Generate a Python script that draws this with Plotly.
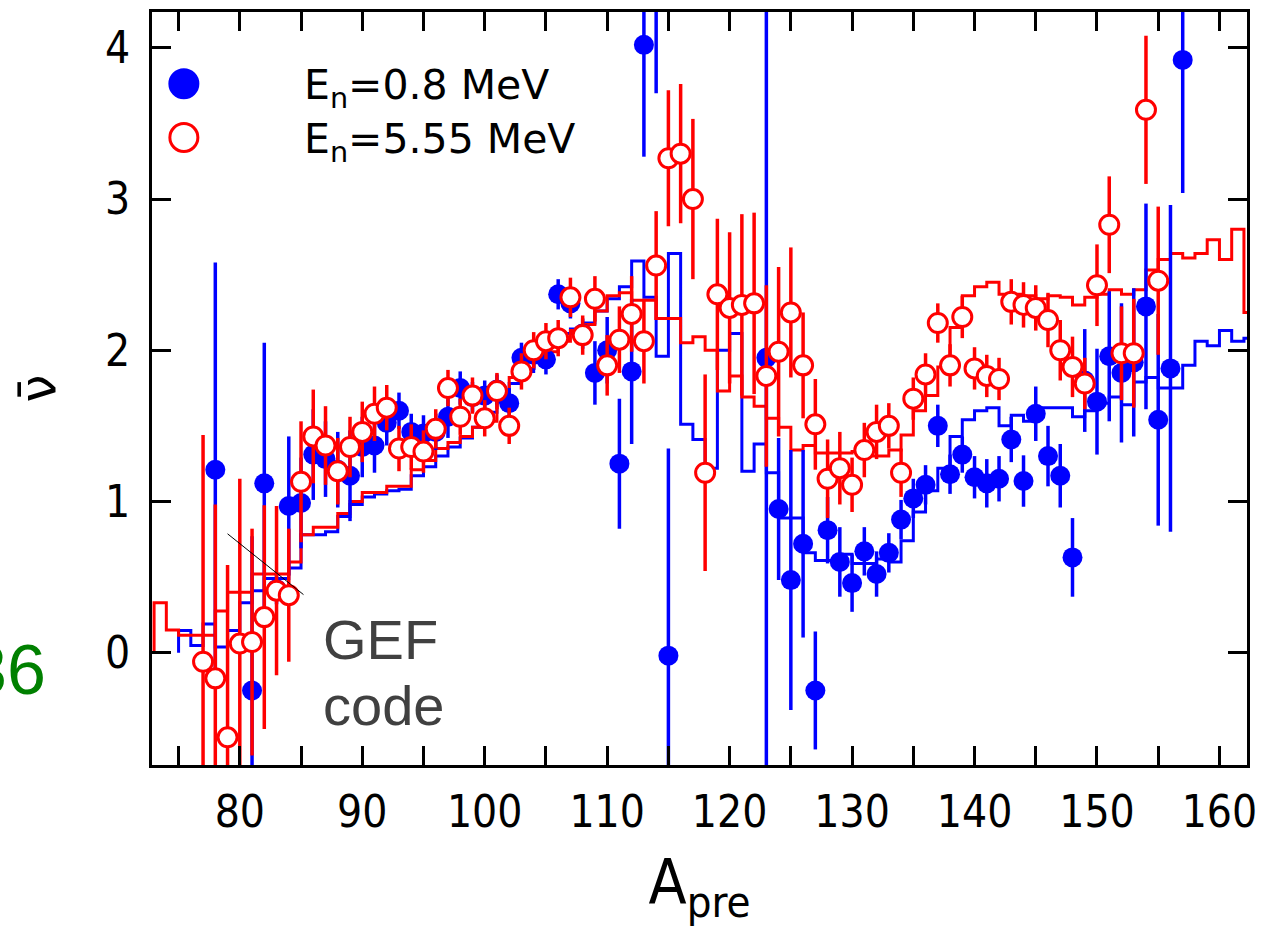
import plotly.graph_objects as go

# ---------------- data ----------------
A_blue = [78, 81, 82, 83, 84, 85, 86, 87, 88, 89, 90, 91, 92, 93, 94, 95, 96, 97, 98, 99,
          100, 101, 102, 103, 104, 105, 106, 107, 108, 109, 110, 111, 112, 113, 114, 115,
          123, 124, 125, 126, 127, 128, 129, 130, 131, 132, 133, 134, 135, 136, 137, 138,
          139, 140, 141, 142, 143, 144, 145, 146, 147, 148, 149, 150, 151, 152, 153, 154,
          155, 156, 157]
nu_blue = [1.21, -0.25, 1.12, 0.42, 0.97, 0.99, 1.31, 1.28, 1.21, 1.17, 1.36, 1.37, 1.52, 1.60,
           1.46, 1.45, 1.46, 1.56, 1.75, 1.69, 1.70, 1.74, 1.65, 1.95, 1.97, 1.94, 2.37, 2.31,
           2.11, 1.85, 2.00, 1.25, 1.86, 4.02, 4.60, -0.02,
           1.95, 0.95, 0.48, 0.72, -0.25, 0.81, 0.60, 0.46, 0.67, 0.52, 0.66, 0.88, 1.02, 1.11,
           1.50, 1.18, 1.31, 1.16, 1.12, 1.15, 1.41, 1.135, 1.58, 1.30, 1.17, 0.63, 1.80, 1.66,
           1.96, 1.85, 1.92, 2.29, 1.54, 1.88, 3.92]
err_blue = [1.37, 1.02, 0.93, 0.10, 0.46, 0.30, 0.30, 0.25, 0.25, 0.30, 0.20, 0.18, 0.15, 0.12,
            0.12, 0.12, 0.12, 0.14, 0.11, 0.10, 0.10, 0.10, 0.10, 0.10, 0.10, 0.10, 0.10, 0.10,
            0.10, 0.21, 0.22, 0.43, 0.48, 0.74, 0.90, 1.37,
            3.00, 0.47, 0.86, 0.62, 0.39, 0.22, 0.23, 0.19, 0.16, 0.15, 0.13, 0.13, 0.13, 0.13,
            0.14, 0.13, 0.12, 0.14, 0.16, 0.15, 0.15, 0.17, 0.18, 0.20, 0.21, 0.26, 0.34, 0.35,
            0.43, 0.46, 0.49, 0.68, 0.70, 1.08, 0.88]

A_red = list(range(77, 156))
nu_red = [-0.06, -0.17, -0.56, 0.06, 0.07, 0.235, 0.41, 0.38, 1.13, 1.43, 1.37, 1.20, 1.36,
          1.46, 1.58, 1.62, 1.35, 1.36, 1.33, 1.48, 1.75, 1.56, 1.70, 1.55, 1.73, 1.50, 1.86,
          2.00, 2.06, 2.08, 2.35, 2.10, 2.34, 1.90, 2.07, 2.24, 2.06, 2.56, 3.27, 3.30, 3.00,
          1.19, 2.37, 2.28, 2.30, 2.31, 1.83, 1.99, 2.25, 1.90, 1.51, 1.15, 1.22, 1.11, 1.34,
          1.46, 1.50, 1.19, 1.68, 1.84, 2.18, 1.90, 2.22, 1.88, 1.83, 1.81, 2.32, 2.30, 2.28,
          2.20, 2.00, 1.89, 1.78, 2.43, 2.83, 1.98, 1.98, 3.59, 2.46]
err_red = [1.50, 1.15, 1.14, 1.09, 0.75, 0.74, 0.56, 0.44, 0.40, 0.31, 0.26, 0.22, 0.20,
           0.20, 0.18, 0.15, 0.15, 0.15, 0.14, 0.13, 0.12, 0.12, 0.12, 0.12, 0.12, 0.12, 0.12,
           0.12, 0.12, 0.12, 0.13, 0.13, 0.15, 0.20, 0.22, 0.25, 0.28, 0.36, 0.45, 0.46, 0.53,
           0.65, 0.50, 0.50, 0.60, 0.60, 0.60, 0.56, 0.43, 0.35, 0.30, 0.26, 0.24, 0.18, 0.18,
           0.18, 0.15, 0.16, 0.14, 0.14, 0.13, 0.14, 0.14, 0.14, 0.14, 0.14, 0.15, 0.15, 0.15,
           0.18, 0.20, 0.20, 0.17, 0.27, 0.32, 0.31, 0.36, 0.49, 0.49]

# GEF code histograms: value of bin [A, A+1], first bin starts at *_start
gef_blue_start = 75
gef_blue = [0.147, 0.048, 0.19, 0.037, 0.147, 0.33, 0.41, 0.49, 0.49, 0.56, 0.78, 0.78, 0.80,
            0.90, 0.98, 1.03, 1.05, 1.07, 1.08, 1.17, 1.23, 1.30, 1.36, 1.42, 1.49, 1.59, 1.66,
            1.78, 1.86, 1.95, 2.03, 2.11, 2.14, 2.18, 2.26, 2.34, 2.42, 2.59, 2.35, 1.96, 2.64,
            1.51, 1.41, 1.22, 2.00, 2.11, 1.20, 1.38, 1.19, 0.89, 0.89, 0.66, 0.61, 0.61, 0.65,
            0.59, 0.59, 0.62, 0.60, 0.74, 0.93, 1.07, 1.22, 1.43, 1.54, 1.60, 1.62, 1.50, 1.57,
            1.53, 1.62, 1.62, 1.62, 1.56, 1.60, 1.65, 1.69, 1.64, 1.79, 1.82, 1.75, 1.75, 1.90,
            2.06, 2.03, 2.13, 2.06, 2.08]
gef_red_start = 73
gef_red = [0.33, 0.15, 0.115, 0.115, 0.115, 0.275, 0.40, 0.40, 0.52, 0.52, 0.52, 0.60, 0.78,
           0.83, 0.83, 0.92, 1.00, 1.06, 1.06, 1.10, 1.10, 1.21, 1.27, 1.35, 1.39, 1.43, 1.49,
           1.53, 1.71, 1.82, 1.88, 1.92, 1.99, 2.06, 2.13, 2.17, 2.26, 2.36, 2.38, 2.33, 2.33,
           2.21, 2.21, 2.05, 2.09, 2.00, 1.73, 1.83, 1.69, 1.63, 1.55, 1.49, 1.34, 1.37, 1.32,
           1.32, 1.32, 1.33, 1.30, 1.30, 1.34, 1.44, 1.60, 1.70, 1.89, 2.15, 2.36, 2.42, 2.45,
           2.37, 2.37, 2.36, 2.34, 2.36, 2.35, 2.30, 2.35, 2.37, 2.40, 2.37, 2.40, 2.53, 2.60,
           2.64, 2.61, 2.64, 2.73, 2.60, 2.80, 2.25]

x_ticks = [75, 80, 85, 90, 95, 100, 105, 110, 115, 120, 125, 130, 135, 140, 145, 150, 155, 160]
x_ticklabels = ['', '80', '', '90', '', '100', '', '110', '', '120', '', '130', '', '140', '',
                '150', '', '160']
y_ticks = [0, 1, 2, 3, 4]
y_ticklabels = ['0', '1', '2', '3', '4']

legend_labels = ['E<sub>n</sub>=0.8 MeV', 'E<sub>n</sub>=5.55 MeV']
gef_label = ['GEF', 'code']
pointer_start = (79.0, 0.786)
pointer_end = (85.2, 0.384)

BLUE = '#0000ff'
RED = '#ff0000'
TICKFONT = 'Liberation Sans Narrow, DejaVu Sans Condensed, DejaVu Sans, sans-serif'


def step_xy(start, vals):
    xs = [start]
    ys = [0]
    for i, v in enumerate(vals):
        xs.append(start + i)
        ys.append(v)
    xs.append(start + len(vals))
    ys.append(vals[-1])
    return xs, ys


fig = go.Figure()

bx, by = step_xy(gef_blue_start, gef_blue)
rx, ry = step_xy(gef_red_start, gef_red)
fig.add_trace(go.Scatter(x=bx, y=by, mode='lines', line=dict(color=BLUE, width=3, shape='hv'),
                         hoverinfo='skip'))
fig.add_trace(go.Scatter(x=rx, y=ry, mode='lines', line=dict(color=RED, width=3, shape='hv'),
                         hoverinfo='skip'))

fig.add_trace(go.Scatter(
    x=A_blue, y=nu_blue, mode='markers', name='E_n=0.8 MeV',
    marker=dict(color=BLUE, size=20, line=dict(width=0)),
    error_y=dict(type='data', array=err_blue, color=BLUE, thickness=3.5, width=0)))
fig.add_trace(go.Scatter(
    x=A_red, y=nu_red, mode='markers', name='E_n=5.55 MeV',
    marker=dict(color='white', size=19, line=dict(color=RED, width=3)),
    error_y=dict(type='data', array=err_red, color=RED, thickness=3.5, width=0)))

# pointer line from the GEF label
fig.add_shape(type='line', xref='x', yref='y', x0=pointer_start[0], y0=pointer_start[1],
              x1=pointer_end[0], y1=pointer_end[1], line=dict(color='black', width=1))

# legend symbols
fig.add_shape(type='circle', xref='paper', yref='paper', xsizemode='pixel', ysizemode='pixel',
              xanchor=0.0291, yanchor=0.9048, x0=-15.5, x1=15.5, y0=-15.5, y1=15.5,
              fillcolor=BLUE, line=dict(width=0))
fig.add_shape(type='circle', xref='paper', yref='paper', xsizemode='pixel', ysizemode='pixel',
              xanchor=0.0291, yanchor=0.8333, x0=-14, x1=14, y0=-14, y1=14,
              fillcolor='white', line=dict(color=RED, width=3))

LEGFONT = dict(family='DejaVu Sans, sans-serif', size=41, color='black')
fig.add_annotation(text=legend_labels[0], xref='paper', yref='paper', x=0.1366, y=0.8995,
                   xanchor='left', yanchor='middle', showarrow=False, font=LEGFONT)
fig.add_annotation(text=legend_labels[1], xref='paper', yref='paper', x=0.1366, y=0.8268,
                   xanchor='left', yanchor='middle', showarrow=False, font=LEGFONT)

GEFFONT = dict(family='Liberation Sans, Arial, sans-serif', size=56, color='#404040')
fig.add_annotation(text=gef_label[0], xref='paper', yref='paper', x=0.1540, y=0.1672,
                   xanchor='left', yanchor='middle', showarrow=False, font=GEFFONT)
fig.add_annotation(text=gef_label[1], xref='paper', yref='paper', x=0.1540, y=0.0786,
                   xanchor='left', yanchor='middle', showarrow=False, font=GEFFONT)

fig.add_annotation(text='36', xref='paper', yref='paper', x=-0.0947, y=0.1263,
                   xanchor='right', yanchor='middle', showarrow=False,
                   font=dict(family='Liberation Sans, Arial, sans-serif', size=70,
                             color='#008000'))

axis_common = dict(ticks='inside', ticklen=19, tickwidth=3, tickcolor='black', showline=True,
                   linewidth=3, linecolor='black', mirror='ticks', showgrid=False,
                   zeroline=False, tickfont=dict(family=TICKFONT, size=44, color='black'))

fig.update_layout(
    width=1266, height=927,
    margin=dict(l=152, r=16, t=9, b=162),
    plot_bgcolor='white', paper_bgcolor='white', showlegend=False,
    xaxis=dict(range=[72.83, 162.25], tickmode='array', tickvals=x_ticks,
               ticktext=x_ticklabels, ticklabelstandoff=6,
               title=dict(text='A<sub>pre</sub>', standoff=28,
                          font=dict(family=TICKFONT, size=62, color='black')),
               **axis_common),
    yaxis=dict(range=[-0.743, 4.237], tickmode='array', tickvals=y_ticks,
               ticktext=y_ticklabels, ticklabelstandoff=10,
               title=dict(text='ν̄', standoff=34,
                          font=dict(family='DejaVu Sans, sans-serif', size=50, color='black')),
               **axis_common),
)

fig.write_html('out.html')
